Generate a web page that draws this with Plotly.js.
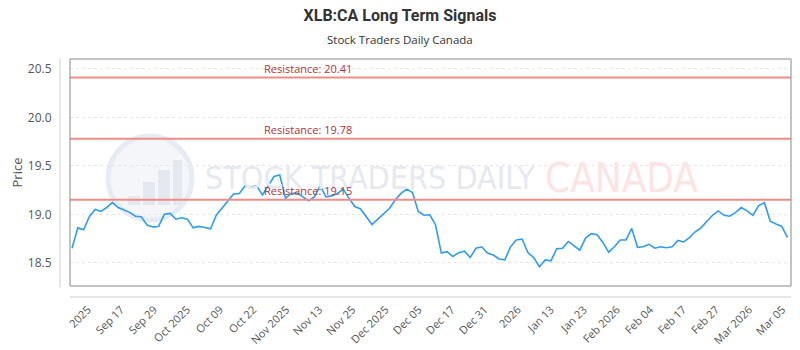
<!DOCTYPE html>
<html>
<head>
<meta charset="utf-8">
<script src="https://cdn.plot.ly/plotly-3.0.1.min.js"></script>
<style>html,body{margin:0;padding:0;background:#fff;}#chart{width:800px;height:350px;}</style>
</head>
<body>
<div id="chart"></div>
<script>
// ---- data ----
const prices = [
  18.65, 18.86, 18.84, 18.975, 19.05, 19.03, 19.07, 19.12, 19.07, 19.045,
  19.02, 18.98, 18.975, 18.89, 18.87, 18.875, 19.00, 19.01, 18.95, 18.965,
  18.95, 18.86, 18.875, 18.865, 18.85, 18.99, 19.06, 19.14, 19.21, 19.215,
  19.295, 19.28, 19.295, 19.20, 19.295, 19.39, 19.405, 19.165, 19.215, 19.22,
  19.18, 19.14, 19.18, 19.295, 19.18, 19.19, 19.215, 19.26, 19.165, 19.08,
  19.055, 18.975, 18.895, 18.95, 19.01, 19.06, 19.147, 19.215, 19.26, 19.225,
  19.03, 18.99, 18.995, 18.89, 18.60, 18.615, 18.565, 18.605, 18.62, 18.555,
  18.65, 18.665, 18.60, 18.58, 18.54, 18.53, 18.665, 18.735, 18.745, 18.605,
  18.555, 18.46, 18.53, 18.52, 18.645, 18.65, 18.72, 18.675, 18.63, 18.755,
  18.80, 18.79, 18.71, 18.61, 18.665, 18.735, 18.735, 18.855, 18.66, 18.665,
  18.69, 18.65, 18.665, 18.655, 18.665, 18.73, 18.715, 18.76, 18.82, 18.86,
  18.93, 18.99, 19.035, 18.99, 18.98, 19.02, 19.07, 19.035, 18.99, 19.09,
  19.12, 18.93, 18.90, 18.875, 18.76
];
const tickLabels = ["2025","Sep 17","Sep 29","Oct 2025","Oct 09","Oct 22","Nov 2025","Nov 13",
  "Nov 25","Dec 2025","Dec 05","Dec 17","Dec 31","2026","Jan 13","Jan 23","Feb 2026","Feb 04",
  "Feb 17","Feb 27","Mar 2026","Mar 05"];
const resistance = [20.41, 19.78, 19.15];
const yTicks = [18.5, 19.0, 19.5, 20.0, 20.5];

// ---- build ----
const xIdx = prices.map((_, i) => i);
const tickStart = 2.75, tickStep = 5.73;
const tickVals = tickLabels.map((_, i) => tickStart + i * tickStep);

const trace = {
  x: xIdx, y: prices, type: 'scatter', mode: 'lines',
  line: {color: '#2f9cf2', width: 1.6}, hoverinfo: 'skip'
};

const shapes = [];
const annotations = [];
// watermark logo
shapes.push({type:'circle', xref:'paper', yref:'paper', layer:'below',
  x0:(108-70)/721, x1:(192-70)/721, y0:(286-220)/227, y1:(286-136)/227,
  line:{color:'#e7ebf3', width:5}, fillcolor:'rgba(236,240,247,0.6)'});
[[128,140,196],[143,155,182],[158,170,170],[173,182,160]].forEach(b=>{
  shapes.push({type:'rect', xref:'paper', yref:'paper', layer:'below',
    x0:(b[0]-70)/721, x1:(b[1]-70)/721, y0:(286-205)/227, y1:(286-b[2])/227,
    line:{width:0}, fillcolor:'#e3e8f1'});
});
annotations.push({xref:'paper', yref:'paper', x:(203-70)/721, y:(286-178)/227,
  xanchor:'left', yanchor:'middle', showarrow:false, text:'STOCK TRADERS DAILY',
  font:{family:'DejaVu Sans Condensed, Liberation Sans Narrow, sans-serif', size:32, color:'#e6e9f1'}});
annotations.push({xref:'paper', yref:'paper', x:(543-70)/721, y:(286-178)/227,
  xanchor:'left', yanchor:'middle', showarrow:false, text:'CANADA',
  font:{family:'Liberation Sans Narrow, DejaVu Sans Condensed, sans-serif', size:40, color:'#fde4e4'}});

resistance.forEach(v => {
  shapes.push({type:'line', xref:'paper', yref:'y', x0:0, x1:1, y0:v, y1:v,
    line:{color:'#f08c86', width:2}});
  annotations.push({xref:'paper', yref:'y', x:(262-70)/721, y:v, xanchor:'left', yanchor:'bottom',
    showarrow:false, text:'Resistance: ' + v.toFixed(2), yshift:0,
    font:{family:'Open Sans, sans-serif', size:11, color:'#b83232'}});
});
// plot border
shapes.push({type:'rect', xref:'paper', yref:'paper', x0:0, x1:1, y0:0, y1:1,
  line:{color:'#888', width:1}});
// offset axis lines
shapes.push({type:'line', xref:'paper', yref:'paper', x0:-10/721, x1:-10/721, y0:-1/227, y1:1,
  line:{color:'#ccc', width:1}});
shapes.push({type:'line', xref:'paper', yref:'paper', x0:0, x1:1, y0:-11/227, y1:-11/227,
  line:{color:'#ccc', width:1}});

annotations.push({xref:'paper', yref:'paper', x:(400-70)/721, y:1, yanchor:'bottom', yshift:10,
  xanchor:'center', showarrow:false, text:'Stock Traders Daily Canada',
  font:{family:'Open Sans, sans-serif', size:11.5, color:'#333'}});

const layout = {
  width: 800, height: 350,
  margin: {l:70, r:9, t:59, b:64},
  paper_bgcolor:'#fff', plot_bgcolor:'#fff',
  showlegend:false,
  title: {text:'<b>XLB:CA Long Term Signals</b>', x:0.5, xanchor:'center', y:1-15/350, yanchor:'middle',
    font:{family:'Roboto, sans-serif', size:16, color:'#333'}},
  xaxis: {range:[-0.35, 124.6], tickmode:'array', tickvals:tickVals, ticktext:tickLabels,
    tickangle:-45, ticks:'outside', ticklen:12, tickcolor:'rgba(0,0,0,0)',
    showgrid:false, zeroline:false, showline:false,
    tickfont:{family:'Open Sans, sans-serif', size:11, color:'#555'}},
  yaxis: {range:[18.261, 20.601], tickmode:'array', tickvals:yTicks,
    ticktext:yTicks.map(v=>v.toFixed(1)),
    ticks:'outside', ticklen:15, tickcolor:'rgba(0,0,0,0)',
    showgrid:true, gridcolor:'#e6e6e6', griddash:'dot', zeroline:false, showline:false,
    tickfont:{family:'Open Sans, sans-serif', size:12, color:'#555'},
    title:{text:'Price', standoff:2, font:{family:'Open Sans, sans-serif', size:13, color:'#555'}}},
  shapes: shapes,
  annotations: annotations,
  hovermode:false
};

Plotly.newPlot('chart', [trace], layout, {displayModeBar:false, staticPlot:true});
</script>
</body>
</html>
